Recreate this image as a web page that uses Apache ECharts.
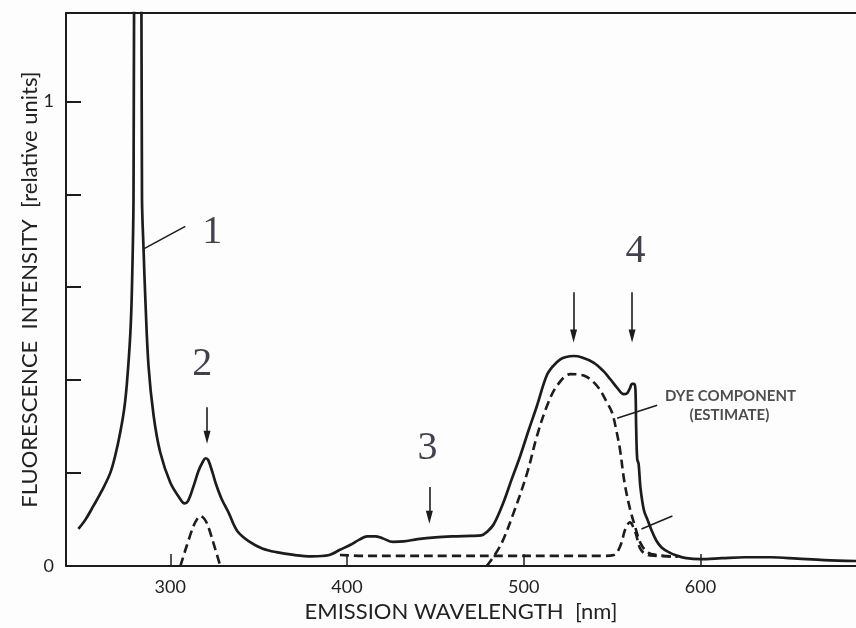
<!DOCTYPE html>
<html>
<head>
<meta charset="utf-8">
<script src="https://cdn.jsdelivr.net/npm/echarts@6/dist/echarts.min.js"></script>
<style>
  html, body { margin: 0; padding: 0; background: #fdfdfd; }
  #chart { width: 856px; height: 628px; }
</style>
</head>
<body>
<div id="chart"></div>
<script>
// ---- Data ----
// Total emission spectrum (solid line)
const totalWavelength = [248, 252, 256.6, 261, 266, 269, 271.7, 274, 275.5, 277.4, 278.3, 279.2, 279.6, 281.6, 283.6, 284, 284.9, 285.9, 287.7, 290.6, 294.3, 300, 305.7, 308, 310, 313, 316, 318.5, 320, 321.5, 324, 326, 329, 333, 338, 345, 352, 360, 370, 380, 390, 396, 402, 407, 411.5, 416, 420, 426, 432, 440, 450, 460, 470, 476, 479, 483, 488.5, 493, 498, 503, 507.5, 513, 517, 520.7, 524, 528.2, 533, 539.5, 545, 549, 553, 556.5, 558.5, 560, 561.3, 562.5, 563.2, 563.6, 564.2, 565, 566, 568, 570, 572, 575, 578, 582, 587, 592, 600, 612, 625, 640, 655, 670, 688];
const totalIntensity  = [0.08, 0.10, 0.13, 0.16, 0.20, 0.24, 0.288, 0.34, 0.395, 0.50, 0.596, 0.79, 1.30, 2.00, 1.30, 0.79, 0.68, 0.574, 0.43, 0.323, 0.245, 0.18, 0.144, 0.135, 0.14, 0.17, 0.205, 0.225, 0.232, 0.228, 0.20, 0.175, 0.145, 0.115, 0.075, 0.052, 0.038, 0.030, 0.024, 0.021, 0.024, 0.035, 0.046, 0.057, 0.064, 0.064, 0.060, 0.052, 0.053, 0.058, 0.062, 0.064, 0.065, 0.066, 0.073, 0.09, 0.137, 0.185, 0.237, 0.295, 0.345, 0.41, 0.432, 0.445, 0.45, 0.452, 0.449, 0.438, 0.42, 0.402, 0.383, 0.37, 0.372, 0.382, 0.392, 0.392, 0.38, 0.30, 0.23, 0.22, 0.17, 0.12, 0.10, 0.08, 0.055, 0.04, 0.03, 0.022, 0.017, 0.015, 0.017, 0.019, 0.019, 0.016, 0.013, 0.011];

// Component near peak 2 (dashed)
const peak2Wavelength = [305.7, 309, 313, 315, 317, 319, 321, 324, 328.3];
const peak2Intensity  = [0, 0.04, 0.085, 0.10, 0.108, 0.103, 0.09, 0.055, 0];

// Baseline component with small peak near 560 nm (dashed)
const baseWavelength = [396, 410, 430, 460, 490, 520, 545, 551, 554.7, 557.5, 560, 563.2, 566, 570, 575, 587];
const baseIntensity  = [0.024, 0.022, 0.022, 0.022, 0.022, 0.022, 0.022, 0.024, 0.044, 0.08, 0.094, 0.072, 0.037, 0.024, 0.022, 0.02];

// Dye component (estimate, dashed)
const dyeWavelength = [479, 486.8, 494.3, 501.9, 507.5, 513.2, 518.8, 526.4, 533.9, 541.4, 547.1, 550, 552.5, 554.5, 557, 560, 563, 566, 570, 575, 587];
const dyeIntensity  = [0, 0.044, 0.115, 0.20, 0.28, 0.345, 0.388, 0.413, 0.41, 0.388, 0.352, 0.33, 0.29, 0.25, 0.18, 0.125, 0.085, 0.05, 0.03, 0.024, 0.02];

// Axes
const xTickValues = [300, 400, 500, 600];
const yTickValues = [0, 0.2, 0.4, 0.6, 0.8, 1];
const yLabelValues = [0, 1];
const xMin = 241, xMax = 688, yMin = 0, yMax = 1.19;

// Annotations (data coordinates)
const peakLabels = ['1', '2', '3', '4'];
const peakLabelX = [323.8, 318.1, 445.5, 563.2];
const peakLabelY = [0.718, 0.434, 0.252, 0.677];
const arrowX     = [320.8, 446.6, 528.2, 561.3];
const arrowTopY  = [0.342, 0.170, 0.589, 0.589];
const arrowTipY  = [0.277, 0.105, 0.495, 0.495];
const pointerFrom = [[308.5, 0.731], [575.5, 0.346], [584.1, 0.108]];
const pointerTo   = [[284.7, 0.682], [552.8, 0.318], [566.6, 0.080]];
const dyeNoteText = ['DYE COMPONENT', '(ESTIMATE)'];
const dyeNoteX = [617.0, 616.4];
const dyeNoteY = [0.366, 0.325];

// ---- Build ----
const zip = (xs, ys) => xs.map((x, i) => [x, ys[i]]);
const ink = '#1c1c1c';
const sansFont = 'Lato';

const chart = echarts.init(document.getElementById('chart'), null, { renderer: 'canvas' });

const arrowHead = 'path://M5,0 L10,22 L0,22 Z';

const option = {
  backgroundColor: '#fdfdfd',
  animation: false,
  grid: { left: 66, right: 0, top: 13, bottom: 61, containLabel: false },
  xAxis: [{
    type: 'value', min: xMin, max: xMax,
    name: 'EMISSION WAVELENGTH  [nm]', nameLocation: 'middle', nameGap: 31,
    nameTextStyle: { fontFamily: sansFont, fontSize: 22, color: '#222' },
    axisLine: { show: true, onZero: false, lineStyle: { color: ink, width: 2 } },
    axisTick: { show: true, inside: true, length: 12, customValues: xTickValues, lineStyle: { color: ink, width: 1.5 } },
    axisLabel: { show: true, customValues: xTickValues, margin: 12, fontFamily: sansFont, fontSize: 18, color: '#222' },
    splitLine: { show: false }
  }, {
    type: 'value', min: xMin, max: xMax, position: 'top',
    axisLine: { show: true, onZero: false, lineStyle: { color: ink, width: 2 } },
    axisTick: { show: false }, axisLabel: { show: false }, splitLine: { show: false }
  }],
  yAxis: {
    type: 'value', min: yMin, max: yMax,
    name: 'FLUORESCENCE  INTENSITY  [relative units]', nameLocation: 'middle', nameGap: 25,
    nameMoveOverlap: false,
    nameTextStyle: { fontFamily: sansFont, fontSize: 22, color: '#222' },
    axisLine: { show: true, onZero: false, lineStyle: { color: ink, width: 2 } },
    axisTick: { show: true, inside: true, length: 15, customValues: yTickValues, lineStyle: { color: ink, width: 2 } },
    axisLabel: { show: true, customValues: yLabelValues, margin: 12, fontFamily: sansFont, fontSize: 18, color: '#222' },
    splitLine: { show: false }
  },
  series: [
    {
      name: 'Total', type: 'line', data: zip(totalWavelength, totalIntensity),
      showSymbol: false, smooth: 0.35, clip: true,
      lineStyle: { color: ink, width: 2.7 }
    },
    {
      name: 'Peak 2 component', type: 'line', data: zip(peak2Wavelength, peak2Intensity),
      showSymbol: false, smooth: 0.3, clip: true,
      lineStyle: { color: ink, width: 2.6, type: [9, 5] }
    },
    {
      name: 'Baseline component', type: 'line', data: zip(baseWavelength, baseIntensity),
      showSymbol: false, smooth: 0.35, clip: true,
      lineStyle: { color: ink, width: 2.6, type: [9, 5] }
    },
    {
      name: 'Dye component', type: 'line', data: zip(dyeWavelength, dyeIntensity),
      showSymbol: false, smooth: 0.35, clip: true,
      lineStyle: { color: ink, width: 2.6, type: [9, 5] }
    },
    {
      name: 'Peak labels', type: 'scatter', symbolSize: 0, silent: true,
      data: peakLabels.map((t, i) => ({ name: t, value: [peakLabelX[i], peakLabelY[i]] })),
      label: { show: true, position: 'inside', formatter: p => p.name,
               fontFamily: 'Liberation Serif', fontSize: 40, color: '#111122' },
      markLine: {
        silent: true, animation: false,
        label: { show: false },
        lineStyle: { color: ink, width: 1.6, type: 'solid' },
        symbol: ['none', arrowHead], symbolSize: [7, 13],
        data: arrowX.map((x, i) => [{ coord: [x, arrowTopY[i]] }, { coord: [x, arrowTipY[i]] }])
      }
    },
    {
      name: 'Notes', type: 'scatter', symbolSize: 0, silent: true,
      data: dyeNoteText.map((t, i) => ({ name: t, value: [dyeNoteX[i], dyeNoteY[i]] })),
      label: { show: true, position: 'inside', formatter: p => p.name,
               fontFamily: sansFont, fontWeight: 'bold', fontSize: 15, color: '#222' },
      markLine: {
        silent: true, animation: false,
        label: { show: false },
        lineStyle: { color: ink, width: 1.6, type: 'solid' },
        symbol: ['none', 'none'],
        data: pointerFrom.map((p, i) => [{ coord: p }, { coord: pointerTo[i] }])
      }
    }
  ]
};
chart.setOption(option);
</script>
</body>
</html>
